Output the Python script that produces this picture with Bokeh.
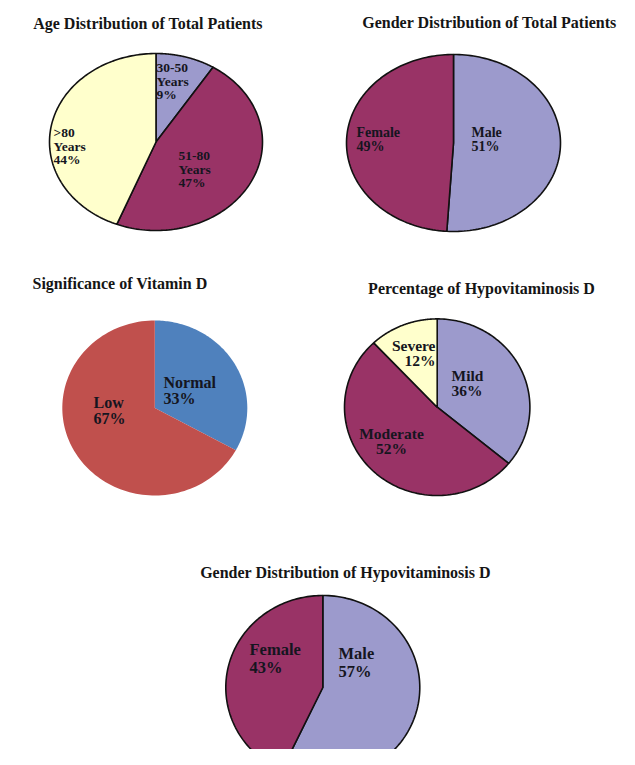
import numpy as np
from bokeh.plotting import figure
from bokeh.models import Range1d
from bokeh.core.properties import value
from bokeh.embed import file_html
from bokeh.resources import INLINE

# ---------------- data ----------------
age_cats = ["30-50 Years", "51-80 Years", ">80 Years"]
age_vals = [9, 47, 44]

gender_cats = ["Male", "Female"]
gender_vals = [51, 49]

vitd_cats = ["Normal", "Low"]
vitd_vals = [33, 67]

hypo_cats = ["Mild", "Moderate", "Severe"]
hypo_vals = [36, 52, 12]

ghypo_cats = ["Male", "Female"]
ghypo_vals = [57, 43]

titles = ["Age Distribution of Total Patients",
          "Gender Distribution of Total Patients",
          "Significance of Vitamin D",
          "Percentage of Hypovitaminosis D",
          "Gender Distribution of Hypovitaminosis D"]

# ---------------- style / layout ----------------
LAV, PLUM, YEL = "#9c9acc", "#993366", "#ffffcc"
BLUE, RED = "#4f81bd", "#c0504d"
FONT = value("Liberation Serif")

pies = [
    dict(cats=age_cats, vals=age_vals, colors=[LAV, PLUM, YEL], c=(155.5, 141.5), r=(106.5, 88.5),
         outline=True, fs="13.5px",
         lab=[(156, 67, "left"), (178, 155, "left"), (53, 132, "left")], lh=13.5,
         split=True),
    dict(cats=gender_cats, vals=gender_vals, colors=[LAV, PLUM], c=(453, 142.5), r=(107, 88.5),
         outline=True, fs="14px",
         lab=[(471, 132, "left"), (356, 132, "left")], lh=14, split=False),
    dict(cats=vitd_cats, vals=vitd_vals, colors=[BLUE, RED], c=(154.3, 407.5), r=(92.5, 87.5),
         outline=False, fs="16px",
         lab=[(163, 382, "left"), (93, 402, "left")], lh=15.5, split=False),
    dict(cats=hypo_cats, vals=hypo_vals, colors=[LAV, PLUM, YEL], c=(436.7, 406.7), r=(92.7, 88.3),
         outline=True, fs="15.5px",
         lab=[(451, 375, "left"), (391, 433, "center"), (435, 345, "right")], lh=15, split=False),
    dict(cats=ghypo_cats, vals=ghypo_vals, colors=[LAV, PLUM], c=(322.3, 687), r=(97, 92),
         outline=True, fs="16.5px",
         lab=[(338, 653, "left"), (249, 649, "left")], lh=17.5, split=False),
]
title_pos = [(147.5, 23), (489, 21.5), (119.5, 283), (481, 288), (345, 572)]

p = figure(width=619, height=749, output_backend="svg", toolbar_location=None,
           x_range=Range1d(0, 619), y_range=Range1d(749, 0),
           min_border=0, outline_line_color=None)
p.axis.visible = False
p.grid.visible = False
p.background_fill_color = "white"

for pie in pies:
    vals = np.array(pie["vals"], dtype=float)
    fr = np.concatenate([[0], np.cumsum(vals)]) / vals.sum() * 2 * np.pi
    cx, cy = pie["c"]
    rx, ry = pie["r"]
    xs, ys = [], []
    for a0, a1 in zip(fr[:-1], fr[1:]):
        t = np.linspace(a0, a1, 120)
        xs.append(np.concatenate([[cx], cx + rx * np.sin(t), [cx]]))
        ys.append(np.concatenate([[cy], cy - ry * np.cos(t), [cy]]))
    if pie["outline"]:
        p.patches(xs, ys, fill_color=pie["colors"], line_color="#111111", line_width=1.6)
    else:
        p.patches(xs, ys, fill_color=pie["colors"], line_color=None)
    for cat, v, (lx, ly, al) in zip(pie["cats"], pie["vals"], pie["lab"]):
        lines = (cat.split(" ") if pie["split"] else [cat]) + [f"{v}%"]
        p.text(x=[lx] * len(lines), y=[ly + i * pie["lh"] for i in range(len(lines))],
               text=lines, text_font=FONT, text_font_style="bold",
               text_font_size=pie["fs"], text_color="#151520",
               text_align=al, text_baseline="middle")

for t, (tx, ty) in zip(titles, title_pos):
    p.text(x=[tx], y=[ty], text=[t], text_font=FONT, text_font_style="bold",
           text_font_size="16px", text_color="#151515",
           text_align="center", text_baseline="middle")

open("out.html", "w").write(file_html(p, INLINE))
